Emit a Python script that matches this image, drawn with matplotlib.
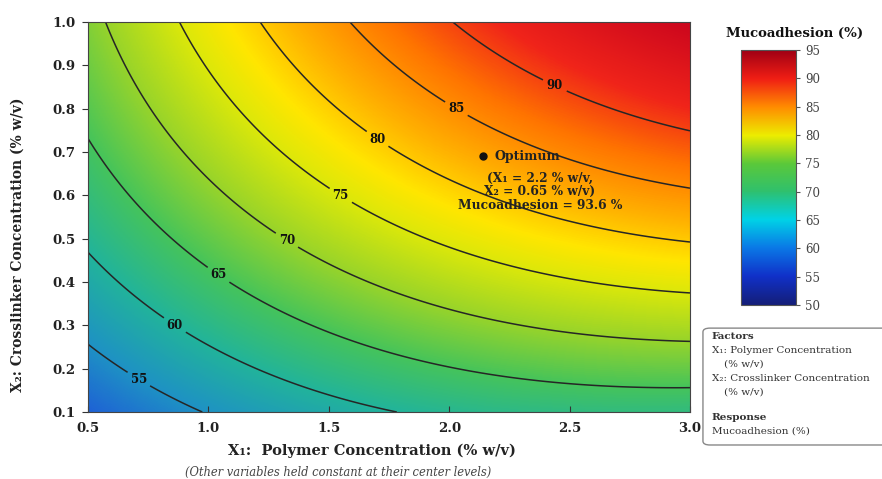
import numpy as np
import matplotlib.pyplot as plt
from matplotlib.colors import LinearSegmentedColormap, Normalize
from matplotlib.cm import ScalarMappable
from matplotlib.patches import FancyBboxPatch

plt.rcParams['font.family'] = ['DejaVu Serif']
plt.rcParams['font.weight'] = 'bold'

# quadratic response surface, coefficients estimated from the contour lines
# Y = b0 + b1*X1 + b2*X2 + b12*X1*X2 + b11*X1^2 + b22*X2^2
b0, b1, b2, b12, b11, b22 = 42.72, 11.25, 26.42, 8.13, -2.13, -9.54

x1_range = [0.5, 3.0]
x2_range = [0.1, 1.0]
levels = [55, 60, 65, 70, 75, 80, 85, 90]
label_pos = [(0.71, 0.175), (0.86, 0.30), (1.04, 0.415), (1.33, 0.50),
             (1.55, 0.60), (1.69, 0.72), (2.03, 0.80), (2.44, 0.855)]
x_ticks = [0.5, 1.0, 1.5, 2.0, 2.5, 3.0]
y_ticks = [0.1, 0.2, 0.3, 0.4, 0.5, 0.6, 0.7, 0.8, 0.9, 1.0]
cbar_ticks = [50, 55, 60, 65, 70, 75, 80, 85, 90, 95]

opt_x1, opt_x2 = 2.14, 0.69

# colours of the surface (value -> colour), as seen in the plot
surf_vals = [50, 55, 60, 65, 70, 75, 78, 82, 87, 92, 100]
surf_cols = ['#1e5ad8', '#1e92c4', '#22b49a', '#46c45a', '#98d42a', '#dce80a',
             '#ffe600', '#ffb000', '#ff7400', '#f0241a', '#c4001e']
# colours of the colour bar
bar_vals = [50, 55, 60, 65, 70, 75, 80, 85, 90, 95]
bar_cols = ['#141e78', '#1030c8', '#0a78e6', '#00d2e6', '#2ec06e', '#5ac83a',
            '#ecec00', '#ff8c00', '#f01e14', '#a00014']


def ramp(vals, cols):
    lo, hi = vals[0], vals[-1]
    return LinearSegmentedColormap.from_list(
        'r', [((v - lo) / (hi - lo), c) for v, c in zip(vals, cols)])


surf_cmap = ramp(surf_vals, surf_cols)
bar_cmap = ramp(bar_vals, bar_cols)

fig = plt.figure(figsize=(8.82, 4.79), dpi=100)
ax = fig.add_axes([0.0998, 0.1399, 0.6825, 0.8142])

g1, g2 = np.meshgrid(np.linspace(*x1_range, 400), np.linspace(*x2_range, 400))
Z = b0 + b1 * g1 + b2 * g2 + b12 * g1 * g2 + b11 * g1 ** 2 + b22 * g2 ** 2

ax.imshow(Z, origin='lower', extent=[*x1_range, *x2_range], aspect='auto',
          cmap=surf_cmap, vmin=surf_vals[0], vmax=surf_vals[-1], interpolation='bilinear')
cs = ax.contour(g1, g2, Z, levels, colors='#262626', linewidths=1.1)
ax.clabel(cs, fmt='%d', fontsize=8.5, inline_spacing=5, manual=label_pos)
for t in cs.labelTexts:
    t.set_fontweight('bold')
    t.set_color('#111111')
    t.set_rotation(0)

ax.plot(opt_x1, opt_x2, 'o', color='#111111', ms=5)
ax.annotate('Optimum', (opt_x1, opt_x2), xytext=(8, 0), textcoords='offset points',
            va='center', ha='left', fontsize=9, color='#222222')
ax.annotate('(X\u2081 = 2.2 % w/v,\nX\u2082 = 0.65 % w/v)\nMucoadhesion = 93.6 %',
            (opt_x1, opt_x2), xytext=(41, -11), textcoords='offset points',
            va='top', ha='center', fontsize=8.8, color='#222222', linespacing=1.05)

ax.set_xlim(*x1_range)
ax.set_ylim(*x2_range)
ax.set_xticks(x_ticks)
ax.set_yticks(y_ticks)
ax.set_xticklabels([f'{v:.1f}' for v in x_ticks], fontsize=9.5)
ax.set_yticklabels([f'{v:.1f}' for v in y_ticks], fontsize=9.5)
ax.tick_params(axis='x', direction='in', length=4, pad=7, colors='#333333', labelcolor='#222222')
ax.tick_params(axis='y', direction='out', length=4, pad=5, colors='#333333', labelcolor='#222222')
for s in ax.spines.values():
    s.set_color('#444444')
ax.set_xlabel('X\u2081:  Polymer Concentration (% w/v)', fontsize=10.5, fontweight='bold',
              color='#222222')
ax.xaxis.set_label_coords(0.472, -0.082)
ax.set_ylabel('X\u2082: Crosslinker Concentration (% w/v)', fontsize=10, fontweight='bold',
              color='#222222')
ax.yaxis.set_label_coords(-0.105, 0.43)
fig.text(0.383, 0.0, '(Other variables held constant at their center levels)',
         ha='center', va='bottom', fontsize=8.3, style='italic', weight='normal', color='#444444')

# colour bar
cax = fig.add_axes([0.840, 0.3633, 0.0624, 0.532])
sm = ScalarMappable(norm=Normalize(bar_vals[0], bar_vals[-1]), cmap=bar_cmap)
cb = fig.colorbar(sm, cax=cax, ticks=cbar_ticks)
cb.outline.set_edgecolor('#555555')
cb.ax.tick_params(length=3, labelsize=8.5, colors='#555555', labelcolor='#444444')
for t in cb.ax.get_yticklabels():
    t.set_fontweight('normal')
fig.text(0.901, 0.93, 'Mucoadhesion (%)', ha='center', va='center', fontsize=9.5,
         color='#111111')

# factors / response box
fig.patches.append(FancyBboxPatch(
    (0.797, 0.071), 0.25, 0.244, boxstyle='round,pad=0.0,rounding_size=0.008',
    transform=fig.transFigure, facecolor='white', edgecolor='#888888', lw=1.0))
box_lines = [
    ('Factors', 'bold', 0.000),
    ('X\u2081: Polymer Concentration', 'normal', 0.000),
    ('(% w/v)', 'normal', 0.014),
    ('X\u2082: Crosslinker Concentration', 'normal', 0.000),
    ('(% w/v)', 'normal', 0.014),
    ('Response', 'bold', 0.000),
    ('Mucoadhesion (%)', 'normal', 0.000),
]
ys = [0.298, 0.268, 0.240, 0.210, 0.182, 0.128, 0.100]
for (txt, w, dx), yy in zip(box_lines, ys):
    fig.text(0.807 + dx, yy, txt, fontsize=7.5, weight=w, color='#333333', va='center')

fig.savefig('out.png')
